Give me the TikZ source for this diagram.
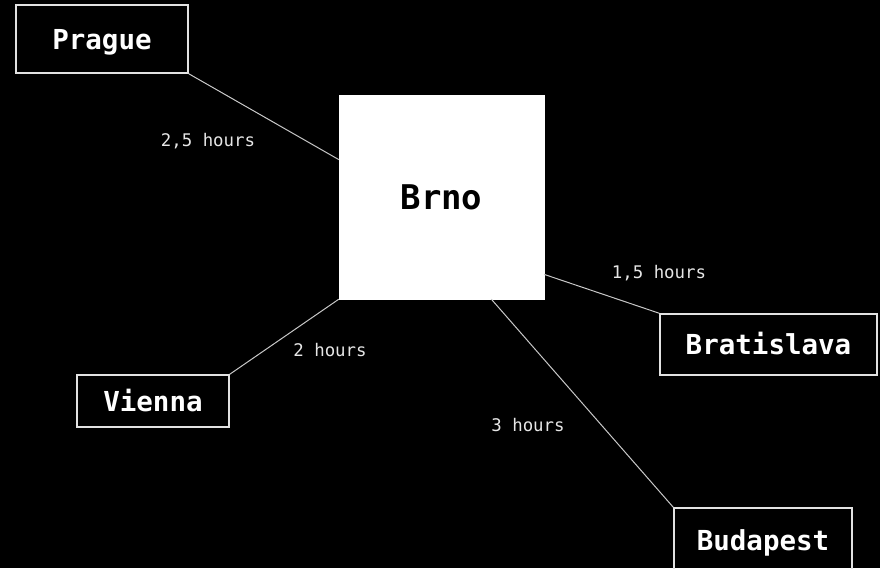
\documentclass[tikz,border=0pt]{standalone}
\usepackage{fontspec}
\setmonofont{DejaVu Sans Mono}
\usetikzlibrary{positioning}

\definecolor{wire}{HTML}{C8C8C8}
\definecolor{frame}{HTML}{E2E2E2}
\definecolor{hourtext}{HTML}{E6E6E6}

\tikzset{
  city/.style={draw=frame, line width=1.5pt, text=white, inner sep=0pt,
    font=\ttfamily\bfseries\fontsize{27.5}{30}\selectfont,
    text height=20pt, text depth=0pt},
  hub/.style={fill=white, draw=white, text=black, inner sep=0pt,
    minimum width=205pt, minimum height=204pt,
    font=\ttfamily\bfseries\fontsize{34}{38}\selectfont},
  hours/.style={text=hourtext, inner sep=0pt,
    font=\ttfamily\fontsize{17.4}{20}\selectfont},
  road/.style={draw=wire, line width=1pt}
}

\begin{document}
\begin{tikzpicture}[x=1pt, y=-1pt]
\fill[black] (0,0) rectangle (880,568);
\useasboundingbox (0,0) rectangle (880,568);

\node[hub] (brno) at (441.5,197) {Brno};

\node[city, minimum width=172pt, minimum height=68pt] (prague) at (102,39) {Prague};
\node[city, minimum width=217pt, minimum height=61pt] (bratislava) at (768.5,344.5) {Bratislava};
\node[city, minimum width=152pt, minimum height=52pt] (vienna) at (153,401) {Vienna};
\node[city, minimum width=178pt, minimum height=64pt] (budapest) at (763,540) {Budapest};

% roads
\draw[road] (prague.south east) -- (brno.160);
\draw[road] (brno.-37.6) -- (bratislava.north west);
\draw[road] (brno.south west) -- (vienna.north east);
\draw[road] (brno.-64.1) -- (budapest.north west);

\node[hours] (t1) at (208,141) {2,5 hours};
\node[hours] (t2) at (659,273) {1,5 hours};
\node[hours] (t3) at (330,350) {2 hours};
\node[hours] (t4) at (528,425) {3 hours};

\end{tikzpicture}
\end{document}
